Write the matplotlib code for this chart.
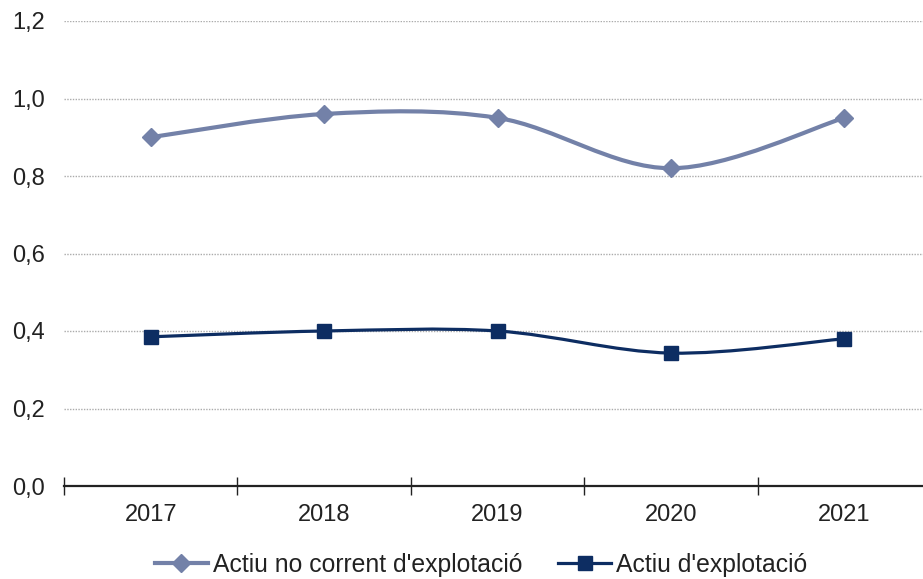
import numpy as np
import matplotlib
matplotlib.use("Agg")
import matplotlib.pyplot as plt
from matplotlib.path import Path
from matplotlib.patches import PathPatch
from matplotlib.lines import Line2D

years = ["2017", "2018", "2019", "2020", "2021"]
actiu_no_corrent = [0.90, 0.96, 0.95, 0.82, 0.95]
actiu_explotacio = [0.385, 0.40, 0.40, 0.343, 0.38]
y_ticks = [0.0, 0.2, 0.4, 0.6, 0.8, 1.0, 1.2]
y_labels = ["0,0", "0,2", "0,4", "0,6", "0,8", "1,0", "1,2"]

c1 = "#7381A8"
c2 = "#0D2D62"
txt = "#222222"

plt.rcParams["font.family"] = ["Liberation Sans", "DejaVu Sans"]

fig = plt.figure(figsize=(9.23, 5.79), dpi=100)
ax = fig.add_axes([64/923, 1-486/579, (931-64)/923, (486-21)/579])

def smooth_path(xs, ys):
    pts = np.column_stack([xs, ys]).astype(float)
    n = len(pts)
    verts = [pts[0]]
    codes = [Path.MOVETO]
    for i in range(n - 1):
        p0 = pts[i - 1] if i > 0 else pts[i]
        p1 = pts[i]
        p2 = pts[i + 1]
        p3 = pts[i + 2] if i + 2 < n else pts[i + 1]
        c_a = p1 + (p2 - p0) / 6.0
        c_b = p2 - (p3 - p1) / 6.0
        verts += [c_a, c_b, p2]
        codes += [Path.CURVE4] * 3
    return Path(verts, codes)

x = np.arange(len(years))
for vals, col, lw, mk, ms in [(actiu_no_corrent, c1, 3.0, "D", 9.5),
                               (actiu_explotacio, c2, 2.3, "s", 9.5)]:
    ax.add_patch(PathPatch(smooth_path(x, vals), facecolor="none", edgecolor=col,
                           lw=lw, capstyle="round", zorder=3))
    ax.plot(x, vals, linestyle="none", marker=mk, markersize=ms, color=col, zorder=4)

ax.set_xlim(-0.5, 4.5)
ax.set_ylim(0, 1.2)

ax.set_yticks(y_ticks)
ax.set_yticklabels(y_labels)
ax.tick_params(axis="y", length=0, pad=14, labelsize=17, labelcolor=txt)
for yv in y_ticks[1:]:
    ax.axhline(yv, color="#ABABAB", lw=1.0, ls=(0, (1, 1)), zorder=1)

ax.set_xticks(np.arange(-0.5, 5.0, 1.0))
ax.set_xticklabels([])
ax.tick_params(axis="x", which="major", direction="inout", length=13, width=1.0, color="#222222")
ax.set_xticks(x, minor=True)
ax.set_xticklabels(years, minor=True)
ax.tick_params(axis="x", which="minor", length=0, pad=13, labelsize=17, labelcolor=txt)

for s in ["left", "right", "top"]:
    ax.spines[s].set_visible(False)
ax.spines["bottom"].set_color("#222222")
ax.spines["bottom"].set_linewidth(1.6)
ax.spines["bottom"].set_zorder(5)

handles = [Line2D([], [], color=c1, lw=3.0, marker="D", markersize=9.5),
           Line2D([], [], color=c2, lw=2.3, marker="s", markersize=9.5)]
fig.legend(handles, ["Actiu no corrent d'explotació", "Actiu d'explotació"],
           loc="center", bbox_to_anchor=(481/923, 1-565/579), ncol=2, frameon=False,
           fontsize=17.8, handlelength=2.15, handletextpad=0.2, columnspacing=1.45,
           labelcolor=txt)

fig.savefig("out.png", dpi=100)
